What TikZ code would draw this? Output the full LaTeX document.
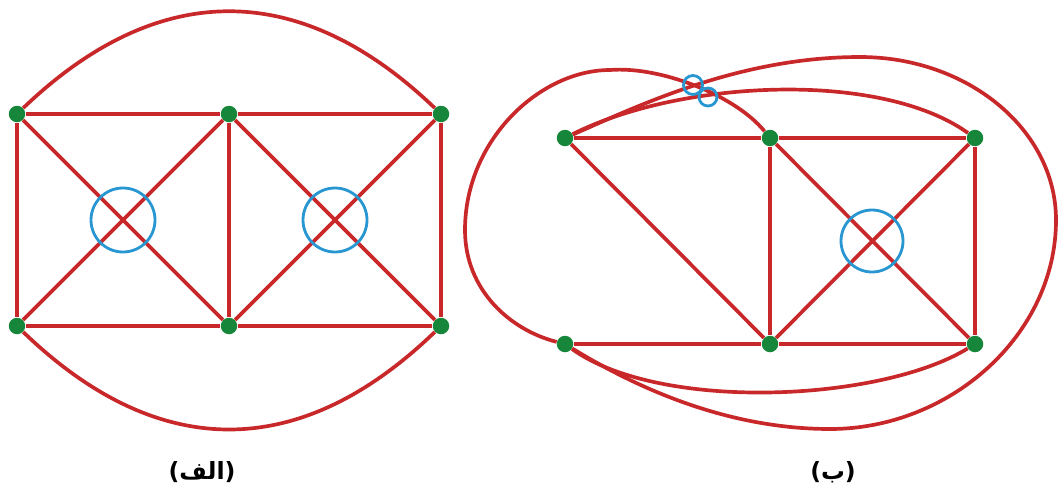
\documentclass[tikz,border=0pt]{standalone}
\usepackage{fontspec}
\newfontfamily\arabicfont[Script=Arabic]{DejaVu Sans}
\TeXXeTstate=1
\definecolor{edgered}{RGB}{200,40,42}
\definecolor{dotgreen}{RGB}{22,135,58}
\definecolor{ringblue}{RGB}{40,150,208}
\begin{document}
\begin{tikzpicture}[x=0.02cm,y=-0.02cm,
  vtx/.style={circle,fill=dotgreen,inner sep=0pt,minimum size=3.3mm},
  ring/.style={circle,draw=ringblue,line width=1.6pt,inner sep=0pt},
  edge/.style={draw=edgered,line width=2.1pt},
  lbl/.style={font=\arabicfont\bfseries\fontsize{13.5}{15}\selectfont}]
\useasboundingbox (0,0) rectangle (1058,494);
% left graph
\node[vtx] (a1) at (17,114) {};
\node[vtx] (a2) at (229,114) {};
\node[vtx] (a3) at (441,114) {};
\node[vtx] (a4) at (17,326) {};
\node[vtx] (a5) at (229,326) {};
\node[vtx] (a6) at (441,326) {};
\foreach \u/\v in {a1/a2,a2/a3,a4/a5,a5/a6,a1/a4,a2/a5,a3/a6,a1/a5,a2/a4,a2/a6,a3/a5}
  \draw[edge] (\u)--(\v);
\draw[edge] (a1) .. controls (158,-21) and (300,-21) .. (a3);
\draw[edge] (a4) .. controls (158,462) and (300,462) .. (a6);
\node[ring,minimum size=12.8mm] (r1) at (123,220) {};
\node[ring,minimum size=12.8mm] (r2) at (335,220) {};
% right graph
\node[vtx] (b1) at (565,138) {};
\node[vtx] (b2) at (770,138) {};
\node[vtx] (b3) at (975,138) {};
\node[vtx] (b4) at (565,344) {};
\node[vtx] (b5) at (770,344) {};
\node[vtx] (b6) at (975,344) {};
\foreach \u/\v in {b1/b2,b2/b3,b4/b5,b5/b6,b2/b5,b3/b6,b1/b5,b2/b6,b3/b5}
  \draw[edge] (\u)--(\v);
\coordinate (ll) at (465,230);
\coordinate (tl) at (610,70);
\coordinate (tr) at (860,57);
\coordinate (rr) at (1056,220);
\coordinate (bb) at (830,429);
\draw[edge] (b4) .. controls (510,330) and (465,290) .. (ll)
  .. controls (465,140) and (540,70) .. (tl)
  .. controls (660,66) and (735,95) .. (b2);
\draw[edge] (b1) .. controls (680,80) and (880,70) .. (b3);
\draw[edge] (b1) .. controls (640,105) and (740,57) .. (tr)
  .. controls (968,57) and (1056,130) .. (rr)
  .. controls (1056,335) and (950,429) .. (bb)
  .. controls (730,429) and (640,390) .. (b4);
\draw[edge] (b4) .. controls (660,412) and (880,402) .. (b6);
\node[ring,minimum size=12.4mm] (r3) at (872,241) {};
\node[ring,minimum size=3.8mm] (r4) at (693,85) {};
\node[ring,minimum size=3.6mm] (r5) at (708,97) {};
% captions
\node[lbl] (cap1) at (202,472) {\beginR(الف)\endR};
\node[lbl] (cap2) at (833,472) {\beginR(ب)\endR};
\end{tikzpicture}
\end{document}
